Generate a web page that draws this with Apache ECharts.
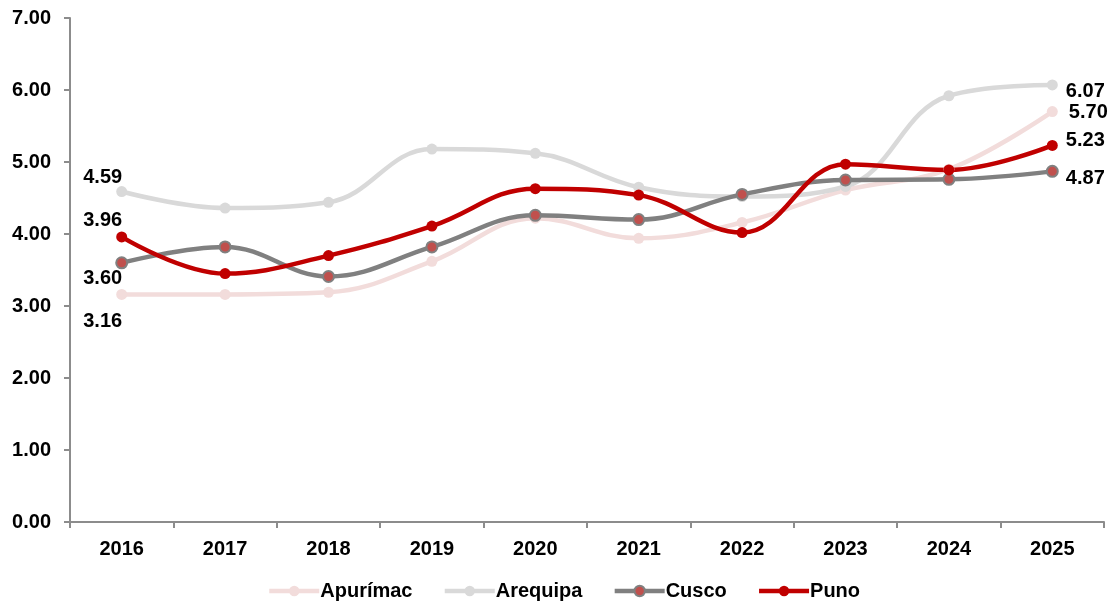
<!DOCTYPE html>
<html>
<head>
<meta charset="utf-8">
<script src="https://cdn.jsdelivr.net/npm/echarts@6/dist/echarts.min.js"></script>
<style>
  html, body { margin: 0; padding: 0; background: #fff; }
  #chart { width: 1114px; height: 603px; }
</style>
</head>
<body>
<div id="chart"></div>
<script>
// Years on the category axis
const years = ['2016', '2017', '2018', '2019', '2020', '2021', '2022', '2023', '2024', '2025'];

// Series values by region
const apurimac = [3.16, 3.16, 3.19, 3.62, 4.22, 3.94, 4.16, 4.61, 4.90, 5.70];
const arequipa = [4.59, 4.36, 4.44, 5.18, 5.12, 4.65, 4.52, 4.66, 5.92, 6.07];
const cusco    = [3.60, 3.82, 3.41, 3.82, 4.26, 4.20, 4.55, 4.75, 4.76, 4.87];
const puno     = [3.96, 3.45, 3.70, 4.11, 4.63, 4.54, 4.02, 4.97, 4.89, 5.23];

const FONT = '"Liberation Sans", Arial, sans-serif';

// Value labels for the first and last point of each series (offsets from the marker)
function withEndLabels(values, firstOffset, lastOffset) {
  return values.map((v, i) => {
    if (i === 0 || i === values.length - 1) {
      return {
        value: v,
        label: {
          show: true,
          position: 'inside',
          offset: i === 0 ? firstOffset : lastOffset,
          formatter: (p) => p.value.toFixed(2),
          color: '#000',
          fontFamily: FONT,
          fontWeight: 'bold',
          fontSize: 20
        }
      };
    }
    return v;
  });
}

function lineSeries(name, values, lineColor, markerFill, markerBorder, firstOffset, lastOffset) {
  return {
    name: name,
    type: 'line',
    smooth: 0.4,
    symbol: 'circle',
    symbolSize: 11,
    data: withEndLabels(values, firstOffset, lastOffset),
    lineStyle: { color: lineColor, width: 4.5 },
    itemStyle: { color: markerFill, borderColor: markerBorder, borderWidth: markerBorder === markerFill ? 0 : 2 },
    emphasis: { disabled: true }
  };
}

const chart = echarts.init(document.getElementById('chart'), null, { renderer: 'canvas' });

chart.setOption({
  animation: false,
  grid: { left: 70, right: 10, top: 18, bottom: 81, containLabel: false },
  legend: {
    bottom: -3,
    left: 262,
    itemWidth: 50,
    itemHeight: 13,
    itemGap: 30,
    lineStyle: { width: 4.5 },
    textStyle: { fontFamily: FONT, fontWeight: 'bold', fontSize: 20, color: '#000', padding: [0, 0, 0, -4] },
    data: ['Apurímac', 'Arequipa', 'Cusco', 'Puno']
  },
  xAxis: {
    type: 'category',
    data: years,
    boundaryGap: true,
    axisLine: { lineStyle: { color: '#8c8c8c', width: 2 } },
    axisTick: { show: true, alignWithLabel: false, length: 6, lineStyle: { color: '#8c8c8c', width: 2 } },
    axisLabel: { margin: 17, fontFamily: FONT, fontWeight: 'bold', fontSize: 20, color: '#000' },
    splitLine: { show: false }
  },
  yAxis: {
    type: 'value',
    min: 0,
    max: 7,
    interval: 1,
    axisLine: { show: true, lineStyle: { color: '#8c8c8c', width: 2 } },
    axisTick: { show: true, length: 6, lineStyle: { color: '#8c8c8c', width: 2 } },
    axisLabel: {
      margin: 19,
      formatter: (v) => v.toFixed(2),
      fontFamily: FONT, fontWeight: 'bold', fontSize: 20, color: '#000'
    },
    splitLine: { show: false }
  },
  series: [
    lineSeries('Apurímac', apurimac, '#f2dcdb', '#f2dcdb', '#f2dcdb', [-19, 27], [36, 1]),
    lineSeries('Arequipa', arequipa, '#d9d9d9', '#d9d9d9', '#d9d9d9', [-19, -14], [33, 7]),
    lineSeries('Cusco', cusco, '#808080', '#c0504d', '#808080', [-19, 16], [33, 7]),
    lineSeries('Puno', puno, '#c00000', '#c00000', '#c00000', [-19, -16], [33, -5])
  ]
});
</script>
</body>
</html>
